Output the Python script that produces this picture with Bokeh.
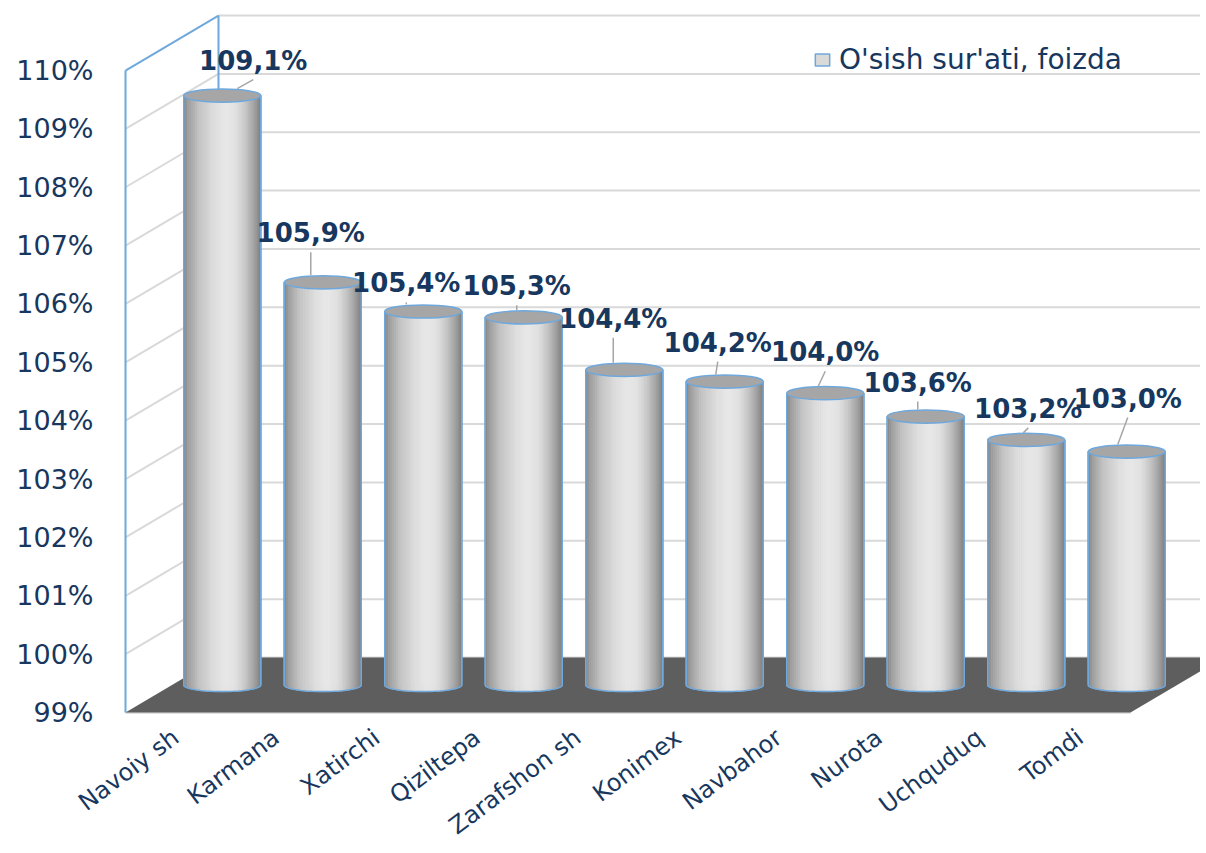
import numpy as np
from bokeh.plotting import figure
from bokeh.models import (LinearAxis, FixedTicker, PrintfTickFormatter, Range1d,
                          ColumnDataSource, Legend, LegendItem)
from bokeh.embed import file_html
from bokeh.resources import INLINE
from bokeh.core.properties import value

# ---------------- data ----------------
categories = ["Navoiy sh", "Karmana", "Xatirchi", "Qiziltepa", "Zarafshon sh",
              "Konimex", "Navbahor", "Nurota", "Uchquduq", "Tomdi"]
growth = [109.1, 105.9, 105.4, 105.3, 104.4, 104.2, 104.0, 103.6, 103.2, 103.0]
y_ticks = [99, 100, 101, 102, 103, 104, 105, 106, 107, 108, 109, 110]
series_name = "O'sish sur'ati, foizda"

# ---------------- label placement (pixels, style) ----------------
lbl_dx = [31, -12, -17, -7, -11, -7, 0, -8, 2, 1]
lbl_dy = [-35, -49, -28, -31, -51, -39, -41, -34, -31, -53]
lead_end_dx = [15, -12, -17, -7, -11, -9, -7, -8, -3, -9]

# ---------------- geometry / style ----------------
W, H = 1200, 848
PX_X, PX_Y = 100.5, 58.36          # pixels per category / per percent
n = len(categories)
x_lo, x_hi = -0.5, n - 0.5
y_base, y_top = y_ticks[0], y_ticks[-1]
x_start = x_lo - 125 / PX_X
x_end = x_start + W / PX_X
y_end = y_base + 712 / PX_Y
y_start = y_end - H / PX_Y
DX, DY = 93 / PX_X, 55 / PX_Y      # depth of the 3-D box
HW = 38.5 / PX_X                   # cylinder half width
EH = 6.6 / PX_Y                    # ellipse half height

TXT = "#17375E"
BLUE = "#6FA8DC"
GRID = "#D9D9D9"
FONT = "DejaVu Sans"

p = figure(width=W, height=H, x_range=Range1d(x_start, x_end), y_range=Range1d(y_start, y_end),
           x_axis_type=None, y_axis_type=None, toolbar_location=None, output_backend="svg",
           min_border=0, min_border_left=0, min_border_right=0, min_border_top=0, min_border_bottom=0)
p.outline_line_color = None
p.background_fill_color = "white"
p.border_fill_color = "white"

# back-wall gridlines
p.segment(x0=[x_lo + DX] * len(y_ticks), y0=[v + DY for v in y_ticks],
          x1=[x_end + 1] * len(y_ticks), y1=[v + DY for v in y_ticks],
          line_color=GRID, line_width=2)
# side-wall gridlines
inner = y_ticks[1:-1]
p.segment(x0=[x_lo] * len(inner), y0=inner, x1=[x_lo + DX] * len(inner), y1=[v + DY for v in inner],
          line_color=GRID, line_width=2)
# front floor line
p.segment(x0=[x_lo], y0=[y_base], x1=[x_hi], y1=[y_base], line_color=GRID, line_width=2.5)
# floor
p.patch(x=[x_lo, x_hi, x_hi + DX, x_lo + DX], y=[y_base, y_base, y_base + DY, y_base + DY],
        fill_color="#5E5E5E", line_color=None)
# blue box edges
p.segment(x0=[x_lo, x_lo, x_lo + DX], y0=[y_base, y_top, y_base + DY],
          x1=[x_lo, x_lo + DX, x_lo + DX], y1=[y_top, y_top + DY, y_top + DY],
          line_color=BLUE, line_width=2)

# cylinders
xc = np.arange(n) + DX / 2
yb = y_base + DY / 2
yt = np.array(growth) + DY / 2

body = p.quad(left=xc - HW, right=xc + HW, bottom=[yb] * n, top=yt,
              fill_color="#D9D9D9", line_color=BLUE, line_width=1.5)

stops_t = [0.0, 0.06, 0.2, 0.4, 0.55, 0.68, 0.8, 0.92, 1.0]
stops_g = [130, 158, 195, 222, 232, 226, 200, 162, 128]
NS = 40
sl, sr, sb, st, sc = [], [], [], [], []
for i in range(n):
    for j in range(NS):
        l = xc[i] - HW + j * 2 * HW / NS
        tm = (j + 0.5) / NS
        s = 2 * tm - 1
        g = int(round(np.interp(tm, stops_t, stops_g)))
        sl.append(l)
        sr.append(l + 2 * HW / NS)
        sb.append(yb - EH * np.sqrt(max(0.0, 1 - s * s)))
        st.append(yt[i])
        sc.append("#%02x%02x%02x" % (g, g, g))
p.quad(left=sl, right=sr, bottom=sb, top=st, fill_color=sc, line_color=sc, line_width=0.8)

# outlines
p.segment(x0=np.concatenate([xc - HW, xc + HW]), y0=[yb] * (2 * n),
          x1=np.concatenate([xc - HW, xc + HW]), y1=np.concatenate([yt, yt]),
          line_color=BLUE, line_width=1.5)
th = np.linspace(np.pi, 2 * np.pi, 40)
p.multi_line(xs=[list(c + HW * np.cos(th)) for c in xc], ys=[list(yb + EH * np.sin(th)) for _ in xc],
             line_color=BLUE, line_width=1.5)
p.ellipse(x=xc, y=yt, width=2 * HW, height=2 * EH, fill_color="#A6A6A6",
          line_color=BLUE, line_width=1.5)

# leader lines
p.segment(x0=xc + np.array(lbl_dx) / PX_X, y0=yt - (np.array(lbl_dy) + 19) / PX_Y,
          x1=xc + np.array(lead_end_dx) / PX_X, y1=yt + 7 / PX_Y,
          line_color="#A6A6A6", line_width=1.5)

# data labels
labels = [("%.1f%%" % v).replace(".", ",") for v in growth]
src = ColumnDataSource(dict(x=xc, y=yt, t=labels, dx=lbl_dx, dy=lbl_dy))
p.text(x="x", y="y", text="t", x_offset="dx", y_offset="dy", source=src,
       text_align="center", text_baseline="middle", text_font=value(FONT),
       text_font_style="bold", text_font_size="26px", text_color=TXT)

# axes
yaxis = LinearAxis(fixed_location=x_lo, ticker=FixedTicker(ticks=y_ticks),
                   formatter=PrintfTickFormatter(format="%d%%"),
                   axis_line_color=None, major_tick_line_color=None, minor_tick_line_color=None,
                   major_tick_in=0, major_tick_out=0, major_label_standoff=32,
                   major_label_text_font=FONT, major_label_text_font_size="27px",
                   major_label_text_color=TXT)
p.add_layout(yaxis, "left")

xaxis = LinearAxis(fixed_location=y_base, ticker=FixedTicker(ticks=list(range(n))),
                   major_label_overrides={i: c for i, c in enumerate(categories)},
                   major_label_orientation=0.645,
                   axis_line_color=None, major_tick_line_color=None, minor_tick_line_color=None,
                   major_tick_in=0, major_tick_out=0, major_label_standoff=22,
                   major_label_text_font=FONT, major_label_text_font_size="24px",
                   major_label_text_color=TXT)
p.add_layout(xaxis, "below")

legend = Legend(items=[LegendItem(label=series_name, renderers=[body])],
                location=(813, 772), padding=0, margin=0, spacing=0,
                glyph_width=18, glyph_height=15, label_standoff=8,
                label_text_font=FONT, label_text_font_size="28px", label_text_color=TXT,
                border_line_color=None, background_fill_alpha=0)
p.add_layout(legend)

open("out.html", "w").write(file_html(p, INLINE))
